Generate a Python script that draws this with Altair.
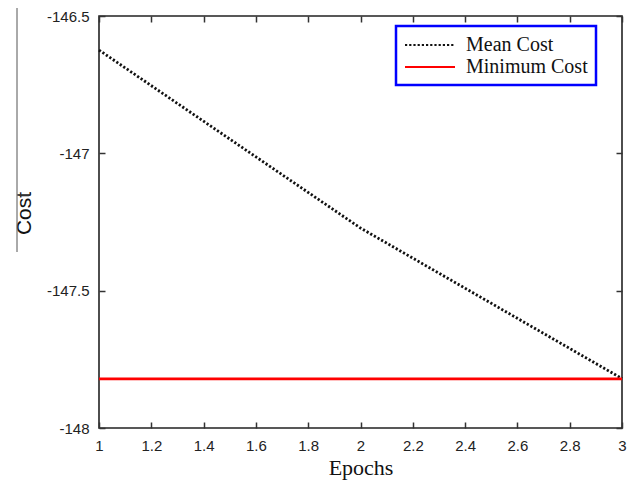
import altair as alt
import pandas as pd

epochs = [1, 2, 3]
mean_cost = [-146.624, -147.272, -147.820]
min_cost = [-147.821, -147.821, -147.821]
series_names = ["Mean Cost", "Minimum Cost"]
x_ticks = [1, 1.2, 1.4, 1.6, 1.8, 2, 2.2, 2.4, 2.6, 2.8, 3]
y_ticks = [-148, -147.5, -147, -146.5]

rows = []
for e, m in zip(epochs, mean_cost):
    rows.append({"Epochs": e, "Cost": m, "series": series_names[0]})
for e, m in zip(epochs, min_cost):
    rows.append({"Epochs": e, "Cost": m, "series": series_names[1]})
df = pd.DataFrame(rows)

W, H = 523, 412
TK = 6

x_scale = alt.Scale(domain=[1, 3], nice=False, zero=False)
y_scale = alt.Scale(domain=[-148, -146.5], nice=False, zero=False)

lbl = dict(labelFont="Liberation Sans", labelFontSize=15, labelColor="#222",
           tickColor="#333", tickWidth=1.5, tickSize=TK, offset=-TK, domain=False,
           grid=False, labelPadding=10, labelFlush=False)

NBSP = "\u00a0"
leg = alt.Legend(
    title=None, orient="none", legendX=297, legendY=10,
    symbolType="M-2.5,0L2.5,0", symbolSize=400, symbolStrokeWidth=1.8,
    symbolOffset=15, labelOffset=25,
    labelFont="Liberation Serif", labelFontSize=20, labelColor="#111",
    labelExpr="datum.label + '" + NBSP * 3 + "'",
    padding=8, rowPadding=1,
    strokeColor="#0000ff", fillColor="white", labelLimit=400,
)

lines = alt.Chart(df).mark_line(strokeWidth=2.8, clip=False).encode(
    x=alt.X("Epochs:Q", scale=x_scale,
            axis=alt.Axis(values=x_ticks, labelExpr="'' + datum.value", title="Epochs",
                          titleFont="Liberation Serif", titleFontSize=22, titleFontWeight="normal",
                          titleColor="#111", titlePadding=4, **lbl)),
    y=alt.Y("Cost:Q", scale=y_scale,
            axis=alt.Axis(values=y_ticks, labelExpr="'' + datum.value", title="Cost",
                          titleFont="Liberation Sans", titleFontSize=21, titleFontWeight="normal",
                          titleColor="#111", titlePadding=12, titleY=197, **lbl)),
    color=alt.Color("series:N",
                    scale=alt.Scale(domain=series_names, range=["#111111", "#ff0000"]),
                    legend=leg),
    strokeDash=alt.StrokeDash("series:N",
                              scale=alt.Scale(domain=series_names, range=[[2.2, 2], [1, 0]]),
                              legend=leg),
)

top_axis = alt.Chart(df).mark_point(opacity=0).encode(
    x=alt.X("Epochs:Q", scale=x_scale,
            axis=alt.Axis(orient="top", values=x_ticks, labels=False, title=None,
                          tickColor="#333", tickWidth=1.5, tickSize=TK, offset=-TK,
                          domain=False, grid=False)),
    y=alt.Y("Cost:Q", scale=y_scale,
            axis=alt.Axis(orient="right", values=y_ticks, labels=False, title=None,
                          tickColor="#333", tickWidth=1.5, tickSize=TK, offset=-TK,
                          domain=False, grid=False)),
)

deco_df = pd.DataFrame({"k": [0]})
deco = alt.Chart(deco_df).mark_rule(color="#555", strokeWidth=1).encode(
    x=alt.value(-82), y=alt.value(-8), y2=alt.value(236))
deco2 = alt.Chart(deco_df).mark_rule(color="#555", strokeWidth=1).encode(
    x=alt.value(-82), x2=alt.value(-69), y=alt.value(179))

chart = alt.layer(lines, top_axis, deco, deco2).resolve_scale(
    x="independent", y="independent"
).properties(
    width=W, height=H,
    autosize=alt.AutoSizeParams(type="none"),
    padding={"left": 91, "top": 8, "right": 7, "bottom": 53},
    background="white",
).configure_view(stroke="#222", strokeWidth=1.6).configure_legend(strokeWidth=2.5)

chart.save("out.html", embed_options={"renderer": "svg", "actions": False})
